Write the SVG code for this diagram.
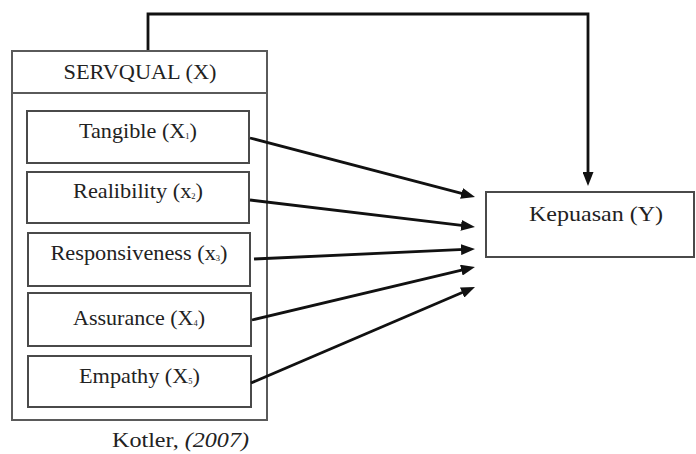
<svg xmlns="http://www.w3.org/2000/svg" width="696" height="454" viewBox="0 0 696 454">
<style>
.box{fill:#fff;stroke:#4a4a4a;stroke-width:2}
.outer{fill:#fff;stroke:#5a5a5a;stroke-width:2}
.t{font-family:'Liberation Serif','Times New Roman','DejaVu Serif',serif;font-size:21px;fill:#222;text-anchor:middle}
.sub{font-size:8px}
.conn{fill:none;stroke:#111;stroke-width:2.8}
</style>
<defs>
<marker id="ah" viewBox="0 0 14 11" refX="9" refY="5.5" markerWidth="14" markerHeight="11" markerUnits="userSpaceOnUse" orient="auto">
<path d="M0,0 L14,5.5 L0,11 z" fill="#111"/>
</marker>
</defs>
<g id="servqual">
<rect class="outer" x="12" y="51" width="255" height="369"/>
<line x1="12" y1="93" x2="267" y2="93" stroke="#5a5a5a" stroke-width="2"/>
<text class="t" font-family="Liberation Serif, serif" x="140" y="79" textLength="153" lengthAdjust="spacingAndGlyphs">SERVQUAL (X)</text>
</g>
<g id="tangible">
<rect class="box" x="27" y="111" width="222" height="52"/>
<text class="t" x="138" y="138" textLength="118" lengthAdjust="spacingAndGlyphs">Tangible (X<tspan class="sub" dy="1">1</tspan><tspan dy="-1">)</tspan></text>
</g>
<g id="realibility">
<rect class="box" x="27" y="172" width="222" height="51"/>
<text class="t" x="138" y="198" textLength="130" lengthAdjust="spacingAndGlyphs">Realibility (x<tspan class="sub" dy="1">2</tspan><tspan dy="-1">)</tspan></text>
</g>
<g id="responsiveness">
<rect class="box" x="28" y="233" width="222" height="53"/>
<text class="t" x="139" y="260" textLength="177" lengthAdjust="spacingAndGlyphs">Responsiveness (x<tspan class="sub" dy="1">3</tspan><tspan dy="-1">)</tspan></text>
</g>
<g id="assurance">
<rect class="box" x="28" y="293" width="223" height="53"/>
<text class="t" x="139" y="325" textLength="132" lengthAdjust="spacingAndGlyphs">Assurance (X<tspan class="sub" dy="1">4</tspan><tspan dy="-1">)</tspan></text>
</g>
<g id="empathy">
<rect class="box" x="28" y="356" width="223" height="51"/>
<text class="t" x="139.5" y="383" textLength="121" lengthAdjust="spacingAndGlyphs">Empathy (X<tspan class="sub" dy="1">5</tspan><tspan dy="-1">)</tspan></text>
</g>
<g id="kepuasan">
<rect class="box" x="486" y="192" width="208" height="65"/>
<text class="t" x="596" y="221" textLength="134" lengthAdjust="spacingAndGlyphs">Kepuasan (Y)</text>
</g>
<g id="source">
<text class="t" x="180.5" y="447" textLength="137" lengthAdjust="spacingAndGlyphs">Kotler, <tspan font-style="italic">(2007)</tspan></text>
</g>
<g id="connectors">
<path class="conn" marker-end="url(#ah)" d="M148,50 V14 H588 V181"/>
<line class="conn" marker-end="url(#ah)" x1="250" y1="138" x2="470.2" y2="195.7"/>
<line class="conn" marker-end="url(#ah)" x1="250" y1="200" x2="470" y2="226.4"/>
<line class="conn" marker-end="url(#ah)" x1="254" y1="259" x2="470" y2="249.2"/>
<line class="conn" marker-end="url(#ah)" x1="252" y1="320" x2="470.1" y2="268.1"/>
<line class="conn" marker-end="url(#ah)" x1="251" y1="383" x2="470.4" y2="289"/>
</g>
</svg>
